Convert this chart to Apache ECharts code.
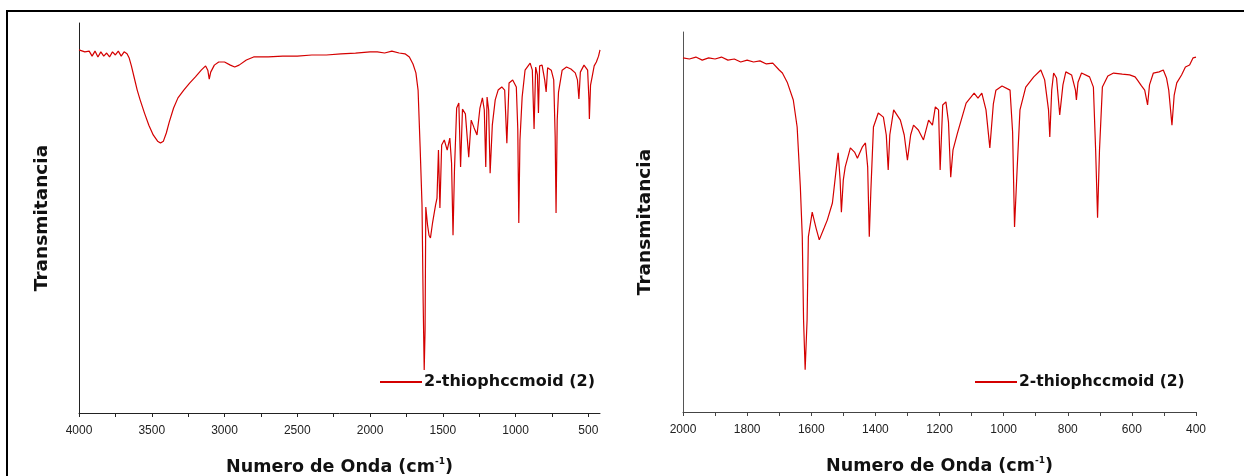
<!DOCTYPE html>
<html>
<head>
<meta charset="utf-8">
<title>IR</title>
<script src="https://cdn.jsdelivr.net/npm/echarts@6/dist/echarts.min.js"></script>
<style>
  html, body { margin: 0; padding: 0; background: #fff; }
  #chart { width: 1244px; height: 476px; }
</style>
</head>
<body>
<div id="chart"></div>
<script>
// espectro completo 4000-420
var leftWave = [4000, 3960, 3930, 3910, 3890, 3870, 3850, 3830, 3810, 3790, 3770, 3750, 3730, 3710, 3690, 3670, 3655, 3640, 3620, 3600,
  3580, 3550, 3520, 3490, 3460, 3440, 3420, 3400, 3380, 3350, 3320, 3280, 3240, 3200, 3160, 3130, 3115, 3105, 3095, 3070,
  3040, 3000, 2960, 2930, 2900, 2850, 2800, 2700, 2600, 2500, 2400, 2300, 2200, 2100, 2000, 1950, 1900, 1850, 1800, 1760,
  1730, 1705, 1685, 1670, 1656, 1643, 1635, 1628, 1622, 1617, 1605, 1595, 1585, 1570, 1550, 1540, 1530, 1520, 1508, 1490,
  1470, 1452, 1440, 1430, 1420, 1405, 1390, 1378, 1365, 1345, 1322, 1305, 1285, 1265, 1245, 1228, 1215, 1205, 1196, 1185,
  1175, 1160, 1140, 1120, 1095, 1075, 1060, 1045, 1020, 995, 985, 978, 970, 955, 935, 900, 885, 873, 862, 850,
  843, 835, 818, 800, 790, 780, 755, 738, 728, 722, 714, 705, 680, 650, 620, 590, 575, 565, 555, 530,
  505, 496, 493, 485, 474, 460, 445, 430, 420]
var leftT = [93.1, 92.6, 92.8, 91.5, 92.8, 91.3, 92.6, 91.5, 92.3, 91.3, 92.6, 91.8, 92.8, 91.5, 92.6, 92.1, 91.0, 89.0, 85.9, 82.8,
  80.3, 76.9, 73.8, 71.3, 69.7, 69.2, 69.7, 71.8, 74.6, 78.2, 80.8, 82.8, 84.6, 86.2, 87.9, 89.0, 87.9, 85.6, 87.4, 89.2,
  90.0, 90.0, 89.2, 88.7, 89.2, 90.5, 91.3, 91.3, 91.5, 91.5, 91.8, 91.8, 92.1, 92.3, 92.6, 92.6, 92.3, 92.8, 92.3, 92.1,
  91.3, 89.5, 87.2, 82.8, 68.2, 53.3, 28.2, 11.0, 21.3, 52.8, 48.2, 45.6, 44.9, 48.9, 53.3, 55.1, 67.4, 52.6, 68.7, 70.0,
  67.4, 70.5, 64.1, 45.6, 62.3, 78.2, 79.5, 63.1, 77.9, 76.7, 65.6, 75.1, 73.1, 71.3, 78.2, 80.8, 77.7, 63.1, 81.0, 77.7,
  61.5, 73.8, 80.3, 82.8, 83.6, 82.8, 69.2, 84.6, 85.4, 83.6, 72.8, 48.7, 70.0, 81.0, 87.9, 89.7, 87.9, 72.8, 88.7, 86.7,
  76.9, 89.0, 89.2, 85.4, 82.3, 88.5, 87.9, 85.4, 70.8, 51.3, 75.1, 82.3, 87.9, 88.7, 88.2, 87.2, 85.4, 80.5, 87.4, 89.2,
  87.9, 80.3, 75.4, 84.1, 86.2, 89.0, 90.0, 91.5, 93.1]

// ampliacion 2000-400
var rightWave = [2000, 1980, 1960, 1940, 1920, 1900, 1880, 1860, 1840, 1820, 1800, 1780, 1760, 1740, 1720, 1700, 1690, 1675, 1656, 1644,
  1634, 1628, 1624, 1619, 1613, 1609, 1597, 1585, 1575, 1560, 1550, 1534, 1519, 1516, 1510, 1506, 1500, 1494, 1478, 1465,
  1456, 1441, 1431, 1424, 1419, 1414, 1406, 1391, 1375, 1366, 1360, 1355, 1343, 1322, 1310, 1300, 1290, 1281, 1266, 1250,
  1234, 1222, 1213, 1203, 1198, 1190, 1180, 1172, 1165, 1158, 1144, 1117, 1092, 1080, 1068, 1055, 1043, 1032, 1024, 1005,
  980, 972, 966, 958, 949, 931, 906, 884, 872, 860, 856, 850, 844, 835, 825, 815, 806, 788, 776, 773,
  768, 757, 732, 720, 713, 707, 701, 692, 675, 657, 630, 607, 590, 583, 570, 560, 551, 545, 533, 515,
  502, 492, 485, 475, 468, 460, 445, 433, 420, 409, 400]
var rightT = [93.2, 92.9, 93.4, 92.6, 93.2, 92.9, 93.4, 92.6, 92.9, 92.1, 92.6, 92.1, 92.4, 91.6, 91.8, 90.0, 89.2, 86.8, 82.1, 75.0,
  59.2, 46.1, 24.2, 11.1, 24.2, 46.1, 52.6, 48.4, 45.3, 48.4, 50.5, 55.0, 66.3, 68.2, 61.1, 52.6, 61.1, 64.5, 69.5, 68.4,
  66.8, 69.7, 70.8, 64.5, 46.1, 58.4, 75.0, 78.7, 77.6, 72.9, 63.7, 72.9, 79.5, 76.8, 72.9, 66.3, 72.9, 75.5, 74.2, 71.6,
  76.8, 75.5, 80.3, 79.5, 63.7, 80.8, 81.6, 76.3, 61.8, 68.9, 73.4, 81.3, 83.9, 82.6, 83.9, 79.5, 69.5, 81.1, 84.7, 85.8,
  84.7, 73.7, 48.7, 63.7, 79.5, 85.5, 88.2, 90.0, 87.4, 79.5, 72.4, 84.7, 89.2, 87.9, 78.2, 86.1, 89.5, 88.7, 84.7, 82.1,
  86.8, 89.2, 88.2, 85.5, 68.9, 51.1, 68.9, 85.5, 88.4, 89.2, 88.9, 88.7, 88.2, 87.4, 85.8, 84.7, 80.8, 86.1, 89.2, 89.5,
  90.0, 87.9, 84.7, 75.5, 83.4, 86.6, 88.7, 90.8, 91.3, 93.2, 93.4]

var leftLabels = [4000, 3500, 3000, 2500, 2000, 1500, 1000, 500]
var leftTicks = [4000, 3750, 3500, 3250, 3000, 2750, 2500, 2250, 2000, 1750, 1500, 1250, 1000, 750, 500]
var rightLabels = [2000, 1800, 1600, 1400, 1200, 1000, 800, 600, 400]
var rightTicks = [2000, 1900, 1800, 1700, 1600, 1500, 1400, 1300, 1200, 1100, 1000, 900, 800, 700, 600, 500, 400]

var seriesName = '2-thiophccmoid (2)'
var lineColor = '#d40000'

function pairs(xs, ys) {
  return xs.map(function (x, i) {
    return [x, ys[i]]
  })
}

function xAxisOf(idx, min, max, labels, ticks, lineCol) {
  return {
    gridIndex: idx,
    type: 'value',
    inverse: true,
    min: min,
    max: max,
    name: 'Numero de Onda (cm{sup|-1})',
    nameLocation: 'middle',
    nameGap: 44,
    nameTextStyle: {
      fontFamily: 'DejaVu Sans',
      fontWeight: 'bold',
      fontSize: 17.5,
      color: '#111',
      rich: {
        sup: { fontFamily: 'DejaVu Sans', fontSize: 9, color: '#111', padding: [0, 0, 12, 0] },
      },
    },
    axisLine: { show: true, lineStyle: { color: lineCol, width: 1 } },
    axisTick: { show: true, length: 4, customValues: ticks, lineStyle: { color: lineCol } },
    axisLabel: {
      customValues: labels,
      margin: 12,
      fontFamily: 'Liberation Sans',
      fontSize: 12,
      color: '#222',
      formatter: function (v) {
        return String(v)
      },
    },
    splitLine: { show: false },
  }
}

function yAxisOf(idx, gap, lineCol) {
  return {
    gridIndex: idx,
    type: 'value',
    min: 0,
    max: 100,
    name: 'Transmitancia',
    nameLocation: 'middle',
    nameRotate: 90,
    nameGap: gap,
    nameTextStyle: {
      fontFamily: 'DejaVu Sans',
      fontWeight: 'bold',
      fontSize: 18.5,
      color: '#111',
    },
    axisLine: { show: true, lineStyle: { color: lineCol, width: 1 } },
    axisTick: { show: false },
    axisLabel: { show: false },
    splitLine: { show: false },
  }
}

function legendOf(left, size) {
  return {
    data: [seriesName],
    left: left,
    top: 374,
    padding: 0,
    icon: 'rect',
    itemWidth: 42,
    itemHeight: 2,
    itemGap: 0,
    textStyle: { fontFamily: 'DejaVu Sans', fontWeight: 'bold', fontSize: size, color: '#111', padding: [0, 0, 0, -3] },
  }
}

var chart = echarts.init(document.getElementById('chart'))
var option = {
  animation: false,
  backgroundColor: '#fff',
  graphic: [
    {
      type: 'polyline',
      shape: { points: [[7, 476], [7, 11], [1244, 11]] },
      style: { stroke: '#000', lineWidth: 2, fill: null },
      silent: true,
    },
  ],
  grid: [
    { left: 79, top: 23, width: 521, height: 390, outerBoundsMode: 'none' },
    { left: 683, top: 32, width: 513, height: 380, outerBoundsMode: 'none' },
  ],
  xAxis: [
    xAxisOf(0, 420, 4000, leftLabels, leftTicks, '#222'),
    xAxisOf(1, 400, 2000, rightLabels, rightTicks, '#444'),
  ],
  yAxis: [yAxisOf(0, 27, '#222'), yAxisOf(1, 28, '#555')],
  legend: [legendOf(380, 16), legendOf(975, 15.5)],
  series: [
    {
      name: seriesName,
      type: 'line',
      xAxisIndex: 0,
      yAxisIndex: 0,
      data: pairs(leftWave, leftT),
      showSymbol: false,
      lineStyle: { color: lineColor, width: 1.2 },
      itemStyle: { color: lineColor },
    },
    {
      name: seriesName,
      type: 'line',
      xAxisIndex: 1,
      yAxisIndex: 1,
      data: pairs(rightWave, rightT),
      showSymbol: false,
      lineStyle: { color: lineColor, width: 1.2 },
      itemStyle: { color: lineColor },
    },
  ],
}
chart.setOption(option)
</script>
</body>
</html>
